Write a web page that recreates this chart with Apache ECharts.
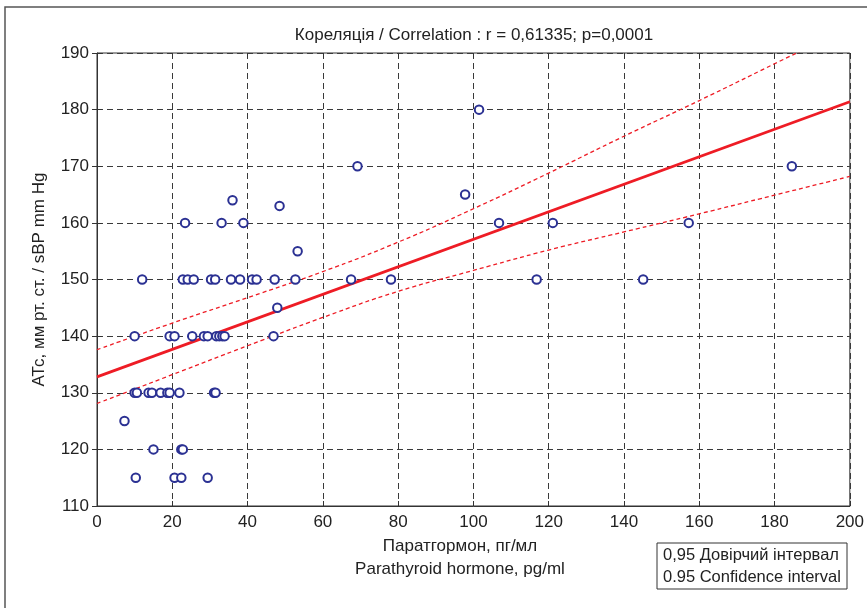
<!DOCTYPE html>
<html>
<head>
<meta charset="utf-8">
<script src="https://cdn.jsdelivr.net/npm/echarts@6/dist/echarts.min.js"></script>
<style>
  html, body { margin: 0; padding: 0; background: #fff; }
  #main { width: 867px; height: 608px; }
</style>
</head>
<body>
<div id="main"></div>
<script>
// measured points: parathyroid hormone (pg/ml) vs systolic BP (mm Hg)
const pthX = [
  101.5,
  69.2, 184.6,
  97.8,
  36.0, 48.5,
  23.4, 33.1, 38.9, 106.8, 121.1, 157.2,
  53.3,
  12.0, 22.8, 24.1, 25.7, 30.3, 31.4, 35.6, 38.0, 41.2, 42.4, 47.2, 52.7, 67.5, 78.1, 116.8, 145.1,
  47.9,
  10.0, 19.3, 20.6, 25.3, 28.4, 29.4, 31.7, 32.5, 33.3, 33.9, 46.9,
  10.0, 10.6, 13.7, 14.6, 16.9, 18.7, 19.3, 21.9, 31.1, 31.5,
  7.3,
  15.0, 22.4, 22.8,
  10.3, 20.6, 22.4, 29.4
];
const sbpY = [
  180,
  170, 170,
  165,
  164, 163,
  160, 160, 160, 160, 160, 160,
  155,
  150, 150, 150, 150, 150, 150, 150, 150, 150, 150, 150, 150, 150, 150, 150, 150,
  145,
  140, 140, 140, 140, 140, 140, 140, 140, 140, 140, 140,
  130, 130, 130, 130, 130, 130, 130, 130, 130, 130,
  125,
  120, 120, 120,
  115, 115, 115, 115
];

// regression line and 0.95 confidence band
const fitX = [0, 200];
const fitY = [132.8, 181.4];
const bandX = [0, 20, 40, 60, 80, 100, 120, 140, 160, 180, 200];
const bandUpper = [137.6, 142.3, 146.8, 151.4, 156.6, 162.5, 168.8, 175.3, 181.6, 188.1, 194.6];
const bandLower = [128.1, 133.2, 138.3, 143.3, 147.9, 151.6, 155.2, 158.4, 161.6, 164.9, 168.2];

const title = "Кореляція / Correlation : r = 0,61335; p=0,0001";
const xName1 = "Паратгормон, пг/мл";
const xName2 = "Parathyroid hormone, pg/ml";
const yName = "АТс, мм рт. ст. / sBP mm Hg";
const legend1 = "0,95 Довірчий інтервал";
const legend2 = "0.95 Confidence interval";

const zip = (xs, ys) => xs.map((x, i) => [x, ys[i]]);

const chart = echarts.init(document.getElementById("main"));

const font = "'Liberation Sans', Arial, sans-serif";
const textColor = "#222";
const labelFont = "17px " + font;
const gridLine = { show: true, lineStyle: { color: "#3a3a3a", type: [6, 4], width: 1 } };
const tickIn = { show: true, inside: true, length: 5, lineStyle: { color: "#333" } };

const options = {
  animation: false,
  textStyle: { fontFamily: font },
  grid: {
    left: 97, right: 16, top: 53, bottom: 102,
    show: true, borderColor: "#333", borderWidth: 1
  },
  xAxis: [
    {
      type: "value", min: 0, max: 200, interval: 20,
      axisLine: { show: true, lineStyle: { color: "#333" } },
      axisTick: tickIn,
      axisLabel: { color: textColor, fontSize: 17, margin: 8, fontFamily: font },
      splitLine: gridLine
    },
    {
      type: "value", position: "top", min: 0, max: 200, interval: 20,
      axisLine: { show: false }, axisTick: tickIn,
      axisLabel: { show: false }, splitLine: { show: false }
    }
  ],
  yAxis: [
    {
      type: "value", min: 110, max: 190, interval: 10,
      axisLine: { show: true, lineStyle: { color: "#333" } },
      axisTick: tickIn,
      axisLabel: { color: textColor, fontSize: 17, margin: 8, fontFamily: font },
      splitLine: gridLine,
      name: yName, nameLocation: "middle", nameGap: 49, nameRotate: 90,
      nameTextStyle: { color: textColor, fontSize: 17, fontFamily: font }
    },
    {
      type: "value", position: "right", min: 110, max: 190, interval: 10,
      axisLine: { show: false }, axisTick: tickIn,
      axisLabel: { show: false }, splitLine: { show: false }
    }
  ],
  graphic: [
    {
      type: "rect", silent: true, z: -1,
      shape: { x: 5, y: 7, width: 900, height: 700 },
      style: { fill: "none", stroke: "#555", lineWidth: 1.5 }
    },
    {
      type: "text", x: 474, y: 35,
      style: { text: title, fill: textColor, font: labelFont, textAlign: "center", textVerticalAlign: "middle" }
    },
    {
      type: "text", x: 460, y: 546,
      style: { text: xName1, fill: textColor, font: labelFont, textAlign: "center", textVerticalAlign: "middle" }
    },
    {
      type: "text", x: 460, y: 569,
      style: { text: xName2, fill: textColor, font: labelFont, textAlign: "center", textVerticalAlign: "middle" }
    },
    {
      type: "rect", shape: { x: 657, y: 543, width: 190, height: 46 },
      style: { fill: "#fff", stroke: "#333", lineWidth: 1 }
    },
    {
      type: "text", x: 663, y: 555,
      style: { text: legend1, fill: textColor, font: "16.5px " + font, textVerticalAlign: "middle" }
    },
    {
      type: "text", x: 663, y: 577,
      style: { text: legend2, fill: textColor, font: "16.5px " + font, textVerticalAlign: "middle" }
    }
  ],
  series: [
    {
      type: "line", data: zip(bandX, bandUpper), smooth: true, symbol: "none",
      lineStyle: { color: "#ee1c25", width: 1.3, type: [4, 3] }, z: 3
    },
    {
      type: "line", data: zip(bandX, bandLower), smooth: true, symbol: "none",
      lineStyle: { color: "#ee1c25", width: 1.3, type: [4, 3] }, z: 3
    },
    {
      type: "line", data: zip(fitX, fitY), symbol: "none",
      lineStyle: { color: "#ee1c25", width: 2.8 }, z: 4
    },
    {
      type: "scatter", data: zip(pthX, sbpY),
      symbol: "emptyCircle", symbolSize: 8.5,
      itemStyle: { color: "#2b3193", borderWidth: 2, opacity: 1 }, z: 5
    }
  ]
};

chart.setOption(options);
</script>
</body>
</html>
